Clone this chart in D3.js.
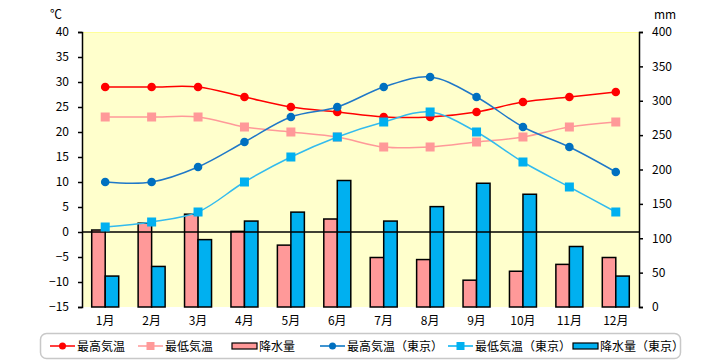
<!DOCTYPE html>
<html><head><meta charset="utf-8">
<script src="https://cdn.jsdelivr.net/npm/d3@7"></script>
<style>body{margin:0;background:#fff}svg{display:block}text{font-family:"Noto Sans CJK JP",sans-serif}</style>
</head><body>
<svg id="c" width="720" height="360"></svg>
<script>
const months = ["1月","2月","3月","4月","5月","6月","7月","8月","9月","10月","11月","12月"];
const maxTemp = [29,29,29,27,25,24,23,23,24,26,27,28];
const minTemp = [23,23,23,21,20,19,17,17,18,19,21,22];
const rain = [112,122,135,110,90,128,72,69,39,52,62,72];
const maxTempTokyo = [10,10,13,18,23,25,29,31,27,21,17,12];
const minTempTokyo = [1,2,4,10,15,19,22,24,20,14,9,4];
const rainTokyo = [45,59,98,125,138,184,125,146,180,164,88,45];
const tempTicks = [-15,-10,-5,0,5,10,15,20,25,30,35,40];
const rainTicks = [0,50,100,150,200,250,300,350,400];

const svg = d3.select("#c");
const L = 82, R = 639, T = 32, B = 307;
const x = d3.scaleBand().domain(months).range([L, R]);
const yT = d3.scaleLinear().domain([-15, 40]).range([B, T]);
const yR = d3.scaleLinear().domain([0, 400]).range([B, T]);
const bw = 13.5;

svg.append("rect").attr("x", L).attr("y", T).attr("width", R - L).attr("height", B - T).attr("fill", "#ffffcc");
svg.append("line").attr("x1", L).attr("x2", R).attr("y1", T + 0.5).attr("y2", T + 0.5).attr("stroke", "#ffff99");

const cx = m => x(m) + x.bandwidth() / 2;

// bars
svg.append("g").selectAll("rect").data(months).join("rect")
  .attr("x", m => cx(m) - bw).attr("width", bw)
  .attr("y", (m, i) => yR(rain[i])).attr("height", (m, i) => yR(0) - yR(rain[i]))
  .attr("fill", "#ff9999").attr("stroke", "#000").attr("stroke-width", 1.5);
svg.append("g").selectAll("rect").data(months).join("rect")
  .attr("x", m => cx(m)).attr("width", bw)
  .attr("y", (m, i) => yR(rainTokyo[i])).attr("height", (m, i) => yR(0) - yR(rainTokyo[i]))
  .attr("fill", "#00b0f0").attr("stroke", "#000").attr("stroke-width", 1.5);

// zero line
svg.append("line").attr("x1", L).attr("x2", R).attr("y1", yT(0)).attr("y2", yT(0)).attr("stroke", "#000").attr("stroke-width", 1.5);

// lines
const series = [
  {v: maxTemp, line: "#ff0000", mark: "#ff0000", shape: "circle"},
  {v: minTemp, line: "#ff9999", mark: "#ff9999", shape: "square"},
  {v: maxTempTokyo, line: "#1f78c8", mark: "#0070c0", shape: "circle"},
  {v: minTempTokyo, line: "#33bbee", mark: "#00b0f0", shape: "square"}
];
const lineGen = d3.line().x((d, i) => cx(months[i])).y(d => yT(d)).curve(d3.curveCatmullRom.alpha(0.5));
series.forEach(s => {
  svg.append("path").attr("d", lineGen(s.v)).attr("fill", "none").attr("stroke", s.line).attr("stroke-width", 1.5);
  const g = svg.append("g");
  if (s.shape === "circle") {
    g.selectAll("circle").data(s.v).join("circle")
      .attr("cx", (d, i) => cx(months[i])).attr("cy", d => yT(d)).attr("r", 4.3).attr("fill", s.mark);
  } else {
    g.selectAll("rect").data(s.v).join("rect")
      .attr("x", (d, i) => cx(months[i]) - 4.5).attr("y", d => yT(d) - 4.5)
      .attr("width", 9).attr("height", 9).attr("fill", s.mark);
  }
});

// axes
const la = svg.append("g").attr("transform", `translate(${L},0)`)
  .call(d3.axisLeft(yT).tickValues(tempTicks).tickSize(4).tickPadding(9).tickFormat(d => d < 0 ? "\u2212" + (-d) : d));
const ra = svg.append("g").attr("transform", `translate(${R},0)`)
  .call(d3.axisRight(yR).tickValues(rainTicks).tickSize(4).tickPadding(9));
[la, ra].forEach(a => {
  a.select(".domain").attr("stroke", "#000").attr("stroke-width", 1.5);
  a.selectAll(".tick line").attr("stroke", "#000").attr("stroke-width", 1.5);
  a.selectAll("text").attr("font-size", 12).attr("fill", "#000").style("font-family", "'Noto Sans CJK JP',sans-serif");
});
svg.append("g").selectAll("text").data(months).join("text")
  .attr("x", m => cx(m)).attr("y", 325).attr("text-anchor", "middle").attr("font-size", 12).text(m => m);

svg.append("text").attr("x", 50).attr("y", 19).attr("font-size", 12).text("℃");
svg.append("text").attr("x", 654).attr("y", 19).attr("font-size", 12).text("mm");

// legend
svg.append("rect").attr("x", 40.5).attr("y", 333.5).attr("width", 640).attr("height", 25).attr("rx", 6)
  .attr("fill", "#fff").attr("stroke", "#c8c8c8").attr("stroke-width", 1.5);
const leg = [
  {label: "最高気温", x: 50, type: "line", c: "#ff0000", m: "circle"},
  {label: "最低気温", x: 138, type: "line", c: "#ff9999", m: "square"},
  {label: "降水量", x: 232, type: "bar", c: "#ff9999"},
  {label: "最高気温（東京）", x: 320, type: "line", c: "#0070c0", m: "circle"},
  {label: "最低気温（東京）", x: 448, type: "line", c: "#00b0f0", m: "square"},
  {label: "降水量（東京）", x: 573, type: "bar", c: "#00b0f0"}
];
const ly = 346;
leg.forEach(d => {
  const g = svg.append("g");
  if (d.type === "line") {
    g.append("line").attr("x1", d.x).attr("x2", d.x + 25).attr("y1", ly).attr("y2", ly).attr("stroke", d.c).attr("stroke-width", 1.5);
    if (d.m === "circle") g.append("circle").attr("cx", d.x + 12.5).attr("cy", ly).attr("r", 3.5).attr("fill", d.c);
    else g.append("rect").attr("x", d.x + 8.5).attr("y", ly - 4).attr("width", 8).attr("height", 8).attr("fill", d.c);
  } else {
    g.append("rect").attr("x", d.x).attr("y", ly - 3).attr("width", 25).attr("height", 6).attr("fill", d.c).attr("stroke", "#000").attr("stroke-width", 1.2);
  }
  g.append("text").attr("x", d.x + 27).attr("y", ly + 4.5).attr("font-size", 12).text(d.label);
});
</script>
</body></html>
